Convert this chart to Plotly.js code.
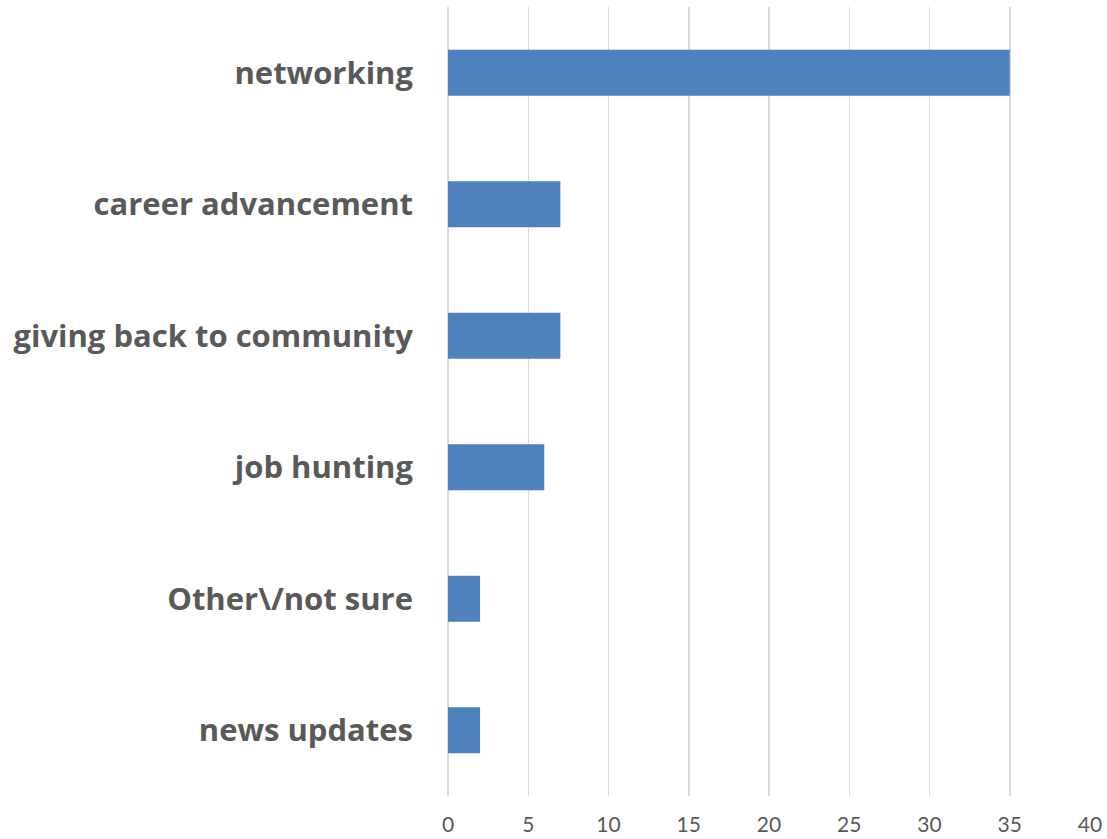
<!DOCTYPE html>
<html>
<head>
<meta charset="utf-8">
<script src="https://cdn.plot.ly/plotly-3.0.1.min.js"></script>
<style>html,body{margin:0;padding:0;background:#fff;}#chart{width:1107px;height:839px;}</style>
</head>
<body>
<div id="chart"></div>
<script>
const categories = ["networking", "career advancement", "giving back to community", "job hunting", "Other\\/not sure", "news updates"];
const values = [35, 7, 7, 6, 2, 2];
const xTicks = [0, 5, 10, 15, 20, 25, 30, 35, 40];

const trace = {
  type: "bar",
  orientation: "h",
  y: categories,
  x: values,
  width: 0.35,
  marker: {color: "#4F81BD"},
  hoverinfo: "x+y"
};

const layout = {
  width: 1107,
  height: 839,
  margin: {l: 448, r: 17, t: 7, b: 43},
  paper_bgcolor: "#ffffff",
  plot_bgcolor: "#ffffff",
  showlegend: false,
  xaxis: {
    range: [0, 40],
    tickvals: xTicks,
    ticktext: xTicks.map(String),
    showgrid: true,
    gridcolor: "#d9d9d9",
    gridwidth: 1.5,
    zeroline: true,
    zerolinecolor: "#d9d9d9",
    zerolinewidth: 1.5,
    showline: false,
    ticks: "",
    ticklabelstandoff: 14,
    tickfont: {family: "Lato, 'Open Sans', sans-serif", size: 21, color: "#595959"}
  },
  yaxis: {
    categoryorder: "array",
    categoryarray: categories,
    autorange: "reversed",
    showgrid: false,
    zeroline: false,
    showline: false,
    ticks: "",
    ticklabelstandoff: 34,
    tickfont: {family: "'Open Sans', Lato, sans-serif", size: 31, color: "#595959", weight: "bold"}
  }
};
Plotly.newPlot("chart", [trace], layout, {displayModeBar: false, staticPlot: true});
</script>
</body>
</html>
